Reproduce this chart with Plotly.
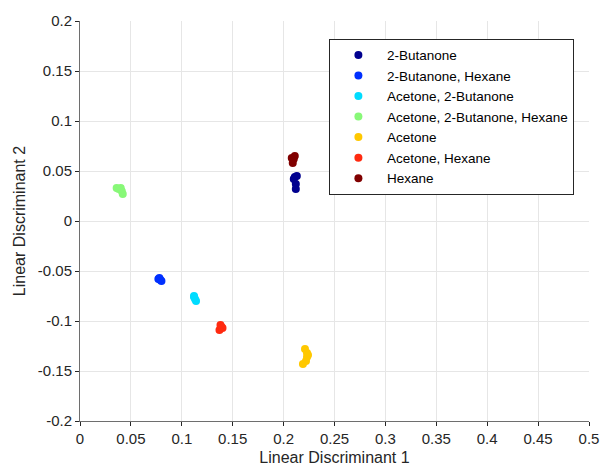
import plotly.graph_objects as go

names = ["2-Butanone", "2-Butanone, Hexane", "Acetone, 2-Butanone",
         "Acetone, 2-Butanone, Hexane", "Acetone", "Acetone, Hexane", "Hexane"]
colors = ["#00008F", "#0030FF", "#00DCFF", "#88F878", "#FFC800", "#FF2A10", "#800000"]

x_butanone = [0.211, 0.213, 0.210, 0.212, 0.212]
y_butanone = [0.044, 0.045, 0.042, 0.037, 0.032]
x_but_hex = [0.077, 0.079, 0.080, 0.078]
y_but_hex = [-0.058, -0.059, -0.060, -0.057]
x_ace_but = [0.112, 0.113, 0.114, 0.112]
y_ace_but = [-0.076, -0.078, -0.080, -0.075]
x_ace_but_hex = [0.036, 0.040, 0.041, 0.042, 0.038]
y_ace_but_hex = [0.033, 0.033, 0.030, 0.027, 0.032]
x_acetone = [0.221, 0.223, 0.223, 0.222, 0.219, 0.224]
y_acetone = [-0.128, -0.132, -0.136, -0.140, -0.143, -0.134]
x_ace_hex = [0.137, 0.139, 0.140, 0.138]
y_ace_hex = [-0.109, -0.106, -0.107, -0.104]
x_hexane = [0.208, 0.211, 0.209, 0.210]
y_hexane = [0.063, 0.065, 0.058, 0.062]

xs = [x_butanone, x_but_hex, x_ace_but, x_ace_but_hex, x_acetone, x_ace_hex, x_hexane]
ys = [y_butanone, y_but_hex, y_ace_but, y_ace_but_hex, y_acetone, y_ace_hex, y_hexane]

x_ticks = [0, 0.05, 0.1, 0.15, 0.2, 0.25, 0.3, 0.35, 0.4, 0.45, 0.5]
x_labels = ["0", "0.05", "0.1", "0.15", "0.2", "0.25", "0.3", "0.35", "0.4", "0.45", "0.5"]
y_ticks = [-0.2, -0.15, -0.1, -0.05, 0, 0.05, 0.1, 0.15, 0.2]
y_labels = ["-0.2", "-0.15", "-0.1", "-0.05", "0", "0.05", "0.1", "0.15", "0.2"]

FONT = "Liberation Sans, Arial, Helvetica"

fig = go.Figure()
for n, c, x, y in zip(names, colors, xs, ys):
    fig.add_trace(go.Scatter(x=x, y=y, mode="markers", name=n,
                             marker=dict(color=c, size=8, line=dict(width=0))))

axis_common = dict(showgrid=True, gridcolor="#E6E6E6", gridwidth=1,
                   showline=True, linecolor="#6E6E6E", linewidth=1,
                   ticks="outside", ticklen=4, tickcolor="#262626",
                   zeroline=False, mirror=False,
                   tickfont=dict(family=FONT, size=15, color="#262626"))

fig.update_layout(
    width=611, height=475,
    margin=dict(l=80, r=14, t=19, b=47),
    plot_bgcolor="white", paper_bgcolor="white",
    xaxis=dict(range=[0, 0.5], tickvals=x_ticks, ticktext=x_labels,
               title=dict(text="Linear Discriminant 1", standoff=5,
                          font=dict(family=FONT, size=16, color="#262626")),
               **axis_common),
    yaxis=dict(range=[-0.2, 0.2], tickvals=y_ticks, ticktext=y_labels,
               title=dict(text="Linear Discriminant 2", standoff=8,
                          font=dict(family=FONT, size=16, color="#262626")),
               **axis_common),
    legend=dict(x=0.489, y=0.956, xanchor="left", yanchor="top",
                bgcolor="white", bordercolor="#262626", borderwidth=1,
                font=dict(family=FONT, size=13.5, color="#000000"),
                itemwidth=47, tracegroupgap=0),
    showlegend=True,
)

fig.write_html("out.html", config={"displayModeBar": False},
               post_script="document.body.style.margin='0';document.body.style.overflow='hidden';")
